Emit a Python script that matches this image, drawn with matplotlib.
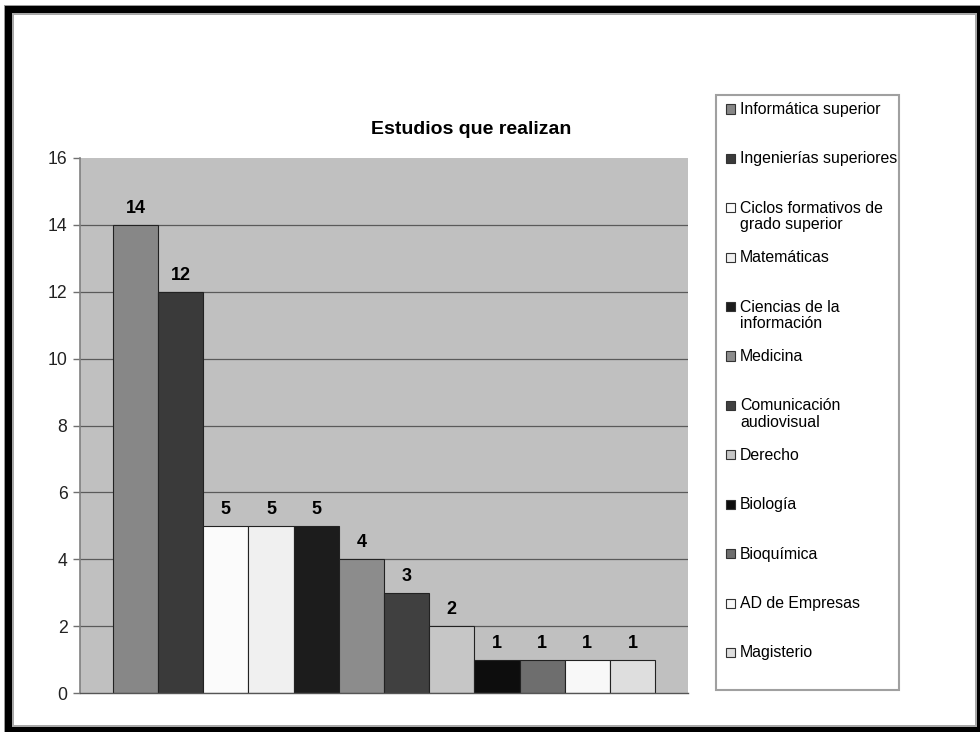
import matplotlib
matplotlib.use("Agg")
import matplotlib.pyplot as plt
from matplotlib.patches import Rectangle

plt.rcParams['font.family'] = ['Liberation Sans', 'DejaVu Sans']

title = "Estudios que realizan"
categories = [
    "Informática superior",
    "Ingenierías superiores",
    "Ciclos formativos de\ngrado superior",
    "Matemáticas",
    "Ciencias de la\ninformación",
    "Medicina",
    "Comunicación\naudiovisual",
    "Derecho",
    "Biología",
    "Bioquímica",
    "AD de Empresas",
    "Magisterio",
]
values = [14, 12, 5, 5, 5, 4, 3, 2, 1, 1, 1, 1]
colors = ["#878787", "#3a3a3a", "#fbfbfb", "#f0f0f0", "#1c1c1c", "#8c8c8c",
          "#404040", "#c6c6c6", "#0d0d0d", "#6e6e6e", "#f8f8f8", "#dedede"]
yticks = [0, 2, 4, 6, 8, 10, 12, 14, 16]

W, H = 980, 732
fig = plt.figure(figsize=(W / 100, H / 100), dpi=100)
fig.patch.set_facecolor("white")


def fx(px):
    return px / W


def fy(py):
    return 1 - py / H


def frect(x0, y0, x1, y1, **kw):
    # rectangle given in pixel coords measured from the top-left corner
    r = Rectangle((fx(x0), fy(y1)), fx(x1) - fx(x0), fy(y0) - fy(y1),
                  transform=fig.transFigure, **kw)
    fig.patches.append(r)
    return r


# outer page frame
frect(4, 5, 1000, 760, facecolor="#9a9a9a", edgecolor="none", zorder=-5)
frect(5, 6, 1000, 760, facecolor="black", edgecolor="none", zorder=-4)
frect(12, 13, 977, 727, facecolor="#a8a8a8", edgecolor="none", zorder=-3)
frect(14, 15, 975, 725, facecolor="white", edgecolor="none", zorder=-2)

# plot area
ax = fig.add_axes([fx(80), fy(693), fx(688) - fx(80), fy(158) - fy(693)])
ax.set_zorder(2)
ax.set_facecolor("#c0c0c0")
x = list(range(len(values)))
bars = ax.bar(x, values, width=1.0, color=colors, edgecolor="#222222",
              linewidth=0.8, zorder=3)
for xi, v in zip(x, values):
    ax.annotate(str(v), (xi, v), xytext=(0, 8.6), textcoords="offset points",
                ha="center", va="baseline", fontsize=13, fontweight="bold",
                color="black", zorder=4)

ax.set_xlim(-0.5 - 0.73, len(values) - 0.5 + 0.73)
ax.set_ylim(0, 16)
ax.set_yticks(yticks)
ax.set_yticklabels([str(t) for t in yticks], fontsize=12.7, color="#222222")
ax.set_xticks([])
ax.tick_params(axis="y", direction="out", length=5, width=1, color="#707070", pad=4)
ax.yaxis.grid(True, color="#5a5a5a", linewidth=0.9, zorder=1)
ax.set_axisbelow(True)
gl = ax.yaxis.get_gridlines()
gl[0].set_visible(False)
gl[-1].set_visible(False)
for s in ("top", "right"):
    ax.spines[s].set_visible(False)
ax.spines["left"].set_color("#808080")
ax.spines["left"].set_linewidth(1.2)
ax.spines["bottom"].set_color("#555555")
ax.spines["bottom"].set_linewidth(1.0)
ax.spines["bottom"].set_zorder(5)

# title
fig.text(fx(471), fy(129), title, ha="center", va="center",
         fontsize=14, fontweight="bold", color="black")

# legend
frect(716, 95, 899, 690, facecolor="white", edgecolor="#a0a0a0", linewidth=1.5, zorder=1)
y0, step = 109, 49.4
for i, (lab, col) in enumerate(zip(categories, colors)):
    yc = y0 + i * step
    frect(726, yc - 4.5, 735, yc + 4.5, facecolor=col, edgecolor="#333333",
          linewidth=0.8, zorder=2)
    fig.text(fx(740), fy(yc - 7), lab, ha="left", va="top", fontsize=11.4,
             color="black", linespacing=1.12, zorder=3)

fig.savefig("out.png", dpi=100, facecolor=fig.get_facecolor())
